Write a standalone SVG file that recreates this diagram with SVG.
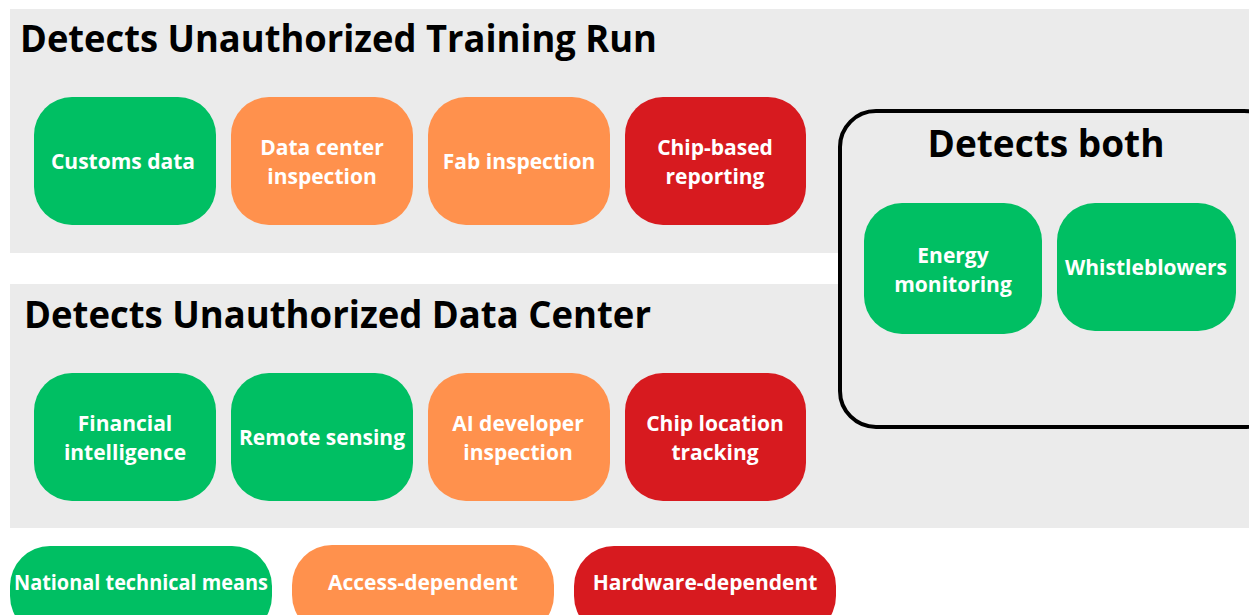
<svg xmlns="http://www.w3.org/2000/svg" width="1249" height="615" viewBox="0 0 1249 615">
<style>
.panel{fill:#ebebeb}
.g{fill:#00bf63}
.o{fill:#ff914d}
.r{fill:#d71a1f}
.t{font-family:"Open Sans","Liberation Sans",sans-serif;font-weight:bold;fill:#fff;font-size:21px;text-anchor:middle}
.h{font-family:"Open Sans","Liberation Sans",sans-serif;font-weight:bold;fill:#000;font-size:37px}
</style>
<rect width="1249" height="615" fill="#fff"/>
<rect class="panel" x="10" y="9" width="1239" height="244"/>
<rect class="panel" x="10" y="284" width="1239" height="244"/>
<text class="h" x="20" y="52" textLength="637" lengthAdjust="spacingAndGlyphs">Detects Unauthorized Training Run</text>
<text class="h" x="24" y="328" textLength="627" lengthAdjust="spacingAndGlyphs">Detects Unauthorized Data Center</text>
<g id="both">
<rect x="840" y="111" width="440" height="316" rx="36" fill="#ebebeb" stroke="#000" stroke-width="4"/>
<text class="h" x="1046" y="157" text-anchor="middle">Detects both</text>
</g>
<g id="customs"><rect class="g" x="34" y="97" width="182" height="128" rx="38"/><text class="t" x="123" y="169">Customs data</text></g>
<g id="dci"><rect class="o" x="231" y="97" width="182" height="128" rx="38"/><text class="t" x="322" y="155">Data center</text><text class="t" x="322" y="184">inspection</text></g>
<g id="fab"><rect class="o" x="428" y="97" width="182" height="128" rx="38"/><text class="t" x="519" y="169">Fab inspection</text></g>
<g id="chipreport"><rect class="r" x="625" y="97" width="181" height="128" rx="38"/><text class="t" x="715" y="155">Chip-based</text><text class="t" x="715" y="184">reporting</text></g>
<g id="fin"><rect class="g" x="34" y="373" width="182" height="128" rx="38"/><text class="t" x="125" y="431">Financial</text><text class="t" x="125" y="460">intelligence</text></g>
<g id="remote"><rect class="g" x="231" y="373" width="182" height="128" rx="38"/><text class="t" x="322" y="445">Remote sensing</text></g>
<g id="aidev"><rect class="o" x="428" y="373" width="182" height="128" rx="38"/><text class="t" x="518" y="431">AI developer</text><text class="t" x="518" y="460">inspection</text></g>
<g id="chiploc"><rect class="r" x="625" y="373" width="181" height="128" rx="38"/><text class="t" x="715" y="431">Chip location</text><text class="t" x="715" y="460">tracking</text></g>
<g id="energy"><rect class="g" x="864" y="203" width="178" height="131" rx="38"/><text class="t" x="953" y="263">Energy</text><text class="t" x="953" y="292">monitoring</text></g>
<g id="whistle"><rect class="g" x="1057" y="203" width="179" height="128" rx="38"/><text class="t" x="1146" y="275">Whistleblowers</text></g>
<g id="leg-ntm"><rect class="g" x="10" y="546" width="262" height="90" rx="40"/><text class="t" x="141" y="590" textLength="254" lengthAdjust="spacingAndGlyphs">National technical means</text></g>
<g id="leg-access"><rect class="o" x="292" y="545" width="262" height="90" rx="40"/><text class="t" x="423" y="590">Access-dependent</text></g>
<g id="leg-hw"><rect class="r" x="574" y="546" width="262" height="90" rx="40"/><text class="t" x="705" y="590">Hardware-dependent</text></g>
<g id="connectors"></g>
</svg>
